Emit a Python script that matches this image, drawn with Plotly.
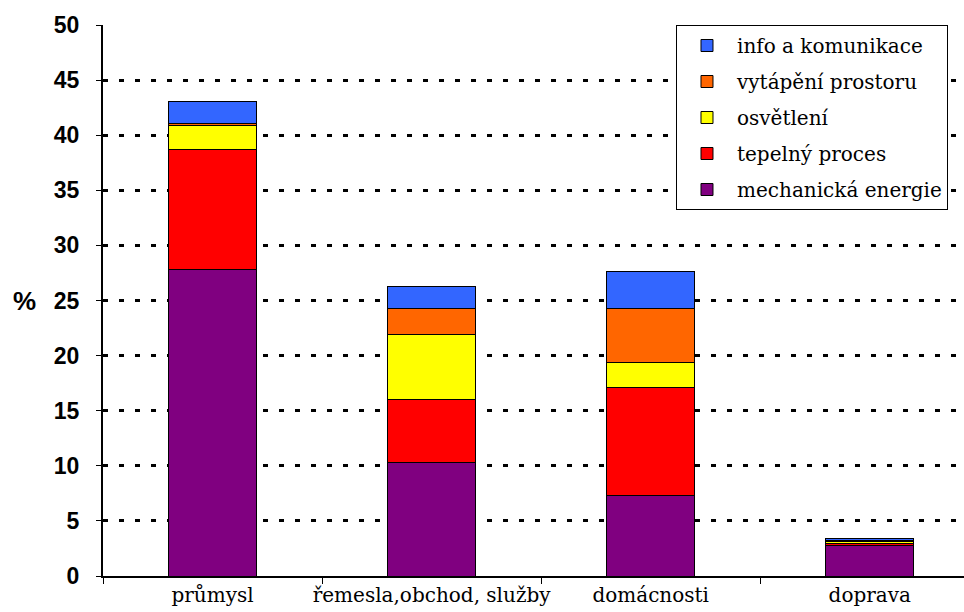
import plotly.graph_objects as go

categories = ["průmysl", "řemesla,obchod, služby", "domácnosti", "doprava"]

mechanicka_energie = [27.8, 10.3, 7.35, 2.8]
tepelny_proces = [10.9, 5.7, 9.75, 0.15]
osvetleni = [2.2, 5.9, 2.3, 0.15]
vytapeni_prostoru = [0.15, 2.4, 4.9, 0.15]
info_a_komunikace = [2.0, 2.0, 3.3, 0.15]

series = [
    ("mechanická energie", mechanicka_energie, "#800080"),
    ("tepelný proces", tepelny_proces, "#FF0000"),
    ("osvětlení", osvetleni, "#FFFF00"),
    ("vytápění prostoru", vytapeni_prostoru, "#FF6600"),
    ("info a komunikace", info_a_komunikace, "#3366FF"),
]

y_ticks = list(range(0, 51, 5))

SANS = "Liberation Sans"
SERIF = "DejaVu Serif"

fig = go.Figure()
for i, (name, values, color) in enumerate(series):
    fig.add_trace(go.Bar(
        x=categories,
        y=values,
        name=name,
        legendgroup=name,
        legendrank=len(series) - i,
        marker=dict(color=color, line=dict(color="black", width=1)),
    ))

fig.update_layout(
    width=964,
    height=612,
    barmode="stack",
    bargap=0.6,
    plot_bgcolor="white",
    paper_bgcolor="white",
    margin=dict(l=103, r=0, t=25, b=36),
    legend=dict(
        traceorder="grouped",
        tracegroupgap=7,
        x=0.6655, y=1.0, xanchor="left", yanchor="top",
        bgcolor="white",
        bordercolor="black",
        borderwidth=1,
        font=dict(family=SERIF, size=20, color="black"),
        itemwidth=50,
    ),
    xaxis=dict(
        range=[-0.5, 3.43],
        showline=True, linecolor="black", linewidth=1.5,
        ticks="outside", tickson="boundaries", ticklen=6, tickcolor="black",
        tickfont=dict(family=SERIF, size=20, color="black"),
        tickangle=0,
        automargin=False,
        showgrid=False,
    ),
    yaxis=dict(
        range=[0, 50],
        tickvals=y_ticks,
        showline=True, linecolor="black", linewidth=2,
        ticks="outside", ticklen=5, tickcolor="black",
        tickfont=dict(family=SANS, size=23, color="black", weight="bold"),
        ticklabelstandoff=12,
        automargin=False,
        showgrid=True, gridcolor="black", gridwidth=3, griddash="5px,11px",
        zeroline=False,
    ),
    annotations=[dict(
        text="%", x=-0.107, y=25, xref="paper", yref="y",
        xanchor="left", yanchor="middle", showarrow=False,
        font=dict(family=SANS, size=26, color="black", weight="bold"),
    )],
)

fig.write_html("out.html")
